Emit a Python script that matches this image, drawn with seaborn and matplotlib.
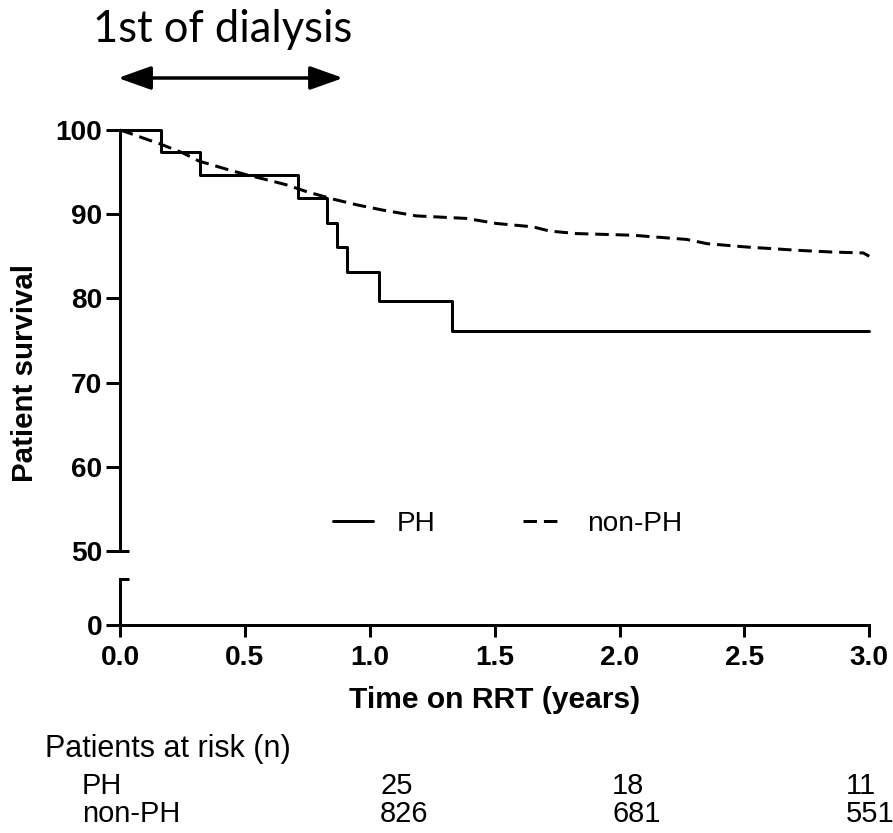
import matplotlib
matplotlib.use("Agg")
import matplotlib.pyplot as plt
import matplotlib.transforms as mtransforms
from matplotlib.lines import Line2D
import seaborn as sns
import pandas as pd

# ---------------- data ----------------
ph_time = [0, 0.164, 0.320, 0.714, 0.828, 0.868, 0.910, 1.035, 1.328, 3.0]
ph_surv = [100, 97.4, 94.7, 91.9, 88.9, 86.1, 83.1, 79.7, 76.1, 76.1]

nonph_time = [0, 0.05, 0.116, 0.156, 0.25, 0.317, 0.42, 0.504, 0.6, 0.665, 0.745,
              0.852, 0.95, 1.05, 1.186, 1.386, 1.507, 1.653, 1.72, 1.828, 2.054,
              2.27, 2.35, 2.51, 2.72, 2.856, 2.976, 3.0]
nonph_surv = [100, 99.5, 98.8, 98.4, 97.3, 96.3, 95.4, 94.7, 94.0, 93.5, 92.7,
              91.8, 91.1, 90.5, 89.8, 89.5, 88.9, 88.5, 88.0, 87.7, 87.5,
              87.0, 86.5, 86.1, 85.7, 85.5, 85.4, 85.0]

series_labels = ["PH", "non-PH"]
x_ticks = [0.0, 0.5, 1.0, 1.5, 2.0, 2.5, 3.0]
y_ticks_top = [50, 60, 70, 80, 90, 100]
y_ticks_bottom = [0]

risk_groups = ["PH", "non-PH"]
risk_ph = ["25", "18", "11"]
risk_nonph = ["826", "681", "551"]

# ---------------- figure ----------------
sns.set_theme(style="white")
FONT = ["Liberation Sans", "DejaVu Sans"]
plt.rcParams["font.family"] = FONT

W, H, DPI = 893, 833, 72
fig = plt.figure(figsize=(W / DPI, H / DPI), dpi=DPI)
fig.patch.set_facecolor("white")

def fx(px):
    return px / W

def fy(py):
    return 1 - py / H

x0, x1 = 120, 869.3
ax = fig.add_axes([fx(x0), fy(551), fx(x1) - fx(x0), fy(130) - fy(551)])
axb = fig.add_axes([fx(x0), fy(625), fx(x1) - fx(x0), fy(579) - fy(625)], sharex=ax)

LW = 3
df_ph = pd.DataFrame({"t": ph_time, "s": ph_surv})
df_np = pd.DataFrame({"t": nonph_time, "s": nonph_surv})
sns.lineplot(data=df_ph, x="t", y="s", ax=ax, color="black", lw=LW,
             drawstyle="steps-post", estimator=None, sort=False,
             clip_on=False, label=series_labels[0], zorder=3)
sns.lineplot(data=df_np, x="t", y="s", ax=ax, color="black", lw=LW,
             linestyle=(0, (4.5, 2.3)), estimator=None, sort=False,
             clip_on=False, label=series_labels[1], zorder=3)

for a in (ax, axb):
    a.set_facecolor("white")
    a.set_xlim(0, 3)
    for s in a.spines.values():
        s.set_linewidth(LW)
        s.set_color("black")
    a.spines["right"].set_visible(False)
    a.spines["top"].set_visible(False)
    a.set_xlabel("")
    a.set_ylabel("")

ax.set_ylim(50, 100)
ax.spines["bottom"].set_visible(False)
ax.set_yticks(y_ticks_top)
ax.set_yticklabels([str(v) for v in y_ticks_top])
ax.tick_params(axis="x", bottom=False, labelbottom=False)
ax.tick_params(axis="y", left=True, direction="out", length=14, width=LW,
               pad=4, labelsize=28, colors="black")
for lab in ax.get_yticklabels():
    lab.set_fontweight("bold")

axb.set_ylim(0, 5)
axb.set_yticks(y_ticks_bottom)
axb.set_yticklabels([str(v) for v in y_ticks_bottom])
axb.set_xticks(x_ticks)
axb.set_xticklabels([f"{v:.1f}" for v in x_ticks])
axb.tick_params(axis="y", left=True, direction="out", length=14, width=LW,
                pad=4, labelsize=28, colors="black")
axb.tick_params(axis="x", bottom=True, direction="out", length=12, width=LW,
                pad=8, labelsize=28, colors="black")
for lab in axb.get_yticklabels() + axb.get_xticklabels():
    lab.set_fontweight("bold")

# break caps
cap_frac = 9 / (x1 - x0)
ax.add_line(Line2D([0, cap_frac], [0, 0], transform=ax.transAxes, color="black",
                   lw=LW, clip_on=False, solid_capstyle="butt"))
axb.add_line(Line2D([0, cap_frac], [1, 1], transform=axb.transAxes, color="black",
                    lw=LW, clip_on=False, solid_capstyle="butt"))

# legend
leg = ax.legend(loc="center left", bbox_to_anchor=(fx(333), fy(524)),
                bbox_transform=fig.transFigure, ncol=2, frameon=False,
                fontsize=28, handlelength=1.43, handletextpad=0.86,
                columnspacing=3.1, borderpad=0, borderaxespad=0)
for t in leg.get_texts():
    t.set_color("black")

# axis labels
fig.text(fx(25.5), fy(373), "Patient survival", rotation=90, ha="center",
         va="center", fontsize=29.5, fontweight="bold", color="black")
fig.text(fx(494.7), fy(708), "Time on RRT (years)", ha="center", va="baseline",
         fontsize=30, fontweight="bold", color="black")

# title and arrow
fig.text(fx(93), fy(42), "1st of dialysis", ha="left", va="baseline",
         fontsize=43.5, family=["Lato", "DejaVu Sans"], color="black")
trans = mtransforms.blended_transform_factory(ax.transData, fig.transFigure)
ax.annotate("", xy=(-0.008, fy(78)), xycoords=trans,
            xytext=(0.893, fy(78)), textcoords=trans,
            arrowprops=dict(arrowstyle="<|-|>,head_length=1.4,head_width=0.5",
                            mutation_scale=20, lw=3.5, color="black",
                            shrinkA=0, shrinkB=0),
            annotation_clip=False)

# patients at risk table
fig.text(fx(45), fy(756.5), "Patients at risk (n)", ha="left", va="baseline",
         fontsize=30.5, color="black")
row_y = [794, 821.7]
for name, yy in zip(risk_groups, row_y):
    fig.text(fx(82), fy(yy), name, ha="left", va="baseline", fontsize=29,
             color="black")
risk_x = [1.041, 1.970, 2.905]
trans2 = mtransforms.blended_transform_factory(ax.transData, fig.transFigure)
for vals, yy in zip([risk_ph, risk_nonph], row_y):
    for xv, v in zip(risk_x, vals):
        fig.text(xv, fy(yy), v, transform=trans2, ha="left", va="baseline",
                 fontsize=29, color="black")

fig.savefig("out.png", dpi=DPI, facecolor="white")
